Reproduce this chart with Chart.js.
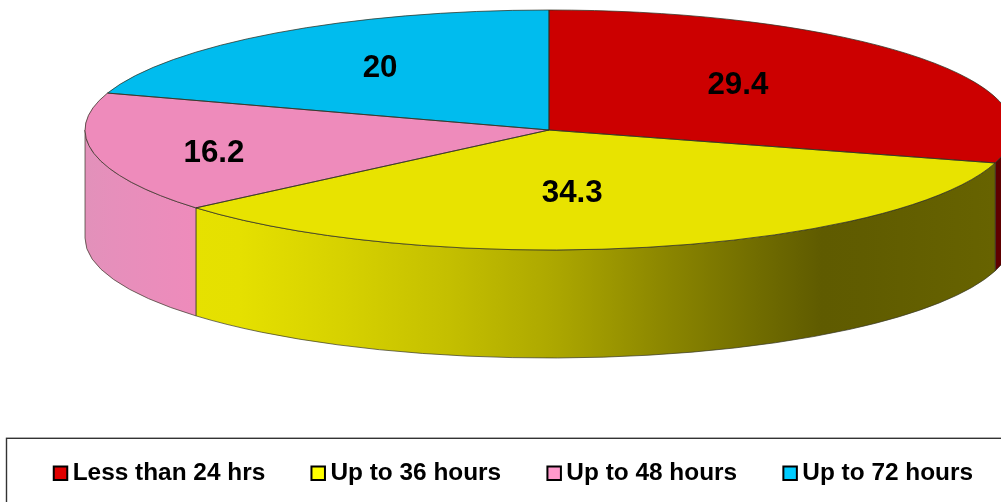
<!DOCTYPE html>
<html><head><meta charset="utf-8">
<style>html,body{margin:0;padding:0;background:#fff;overflow:hidden}canvas{display:block}</style>
<script src="https://cdn.jsdelivr.net/npm/chart.js@4/dist/chart.umd.min.js"></script>
</head><body><canvas id="c" width="1001" height="502"></canvas>
<script>
const categories = ['Less than 24 hrs','Up to 36 hours','Up to 48 hours','Up to 72 hours'];
const values = [29.4,34.3,16.2,20];
const sliceColors = ['#cc0000','#e8e300','#ee8bbb','#00bcee'];
const swatchColors = ['#e00000','#ffff00','#ff99cc','#00ccff'];
const wallStops = [
  [[0,'#5f0000'],[1,'#5f0000']],
  [[0,'#e8e300'],[0.167,'#e5e000'],[0.28,'#d6d100'],[0.392,'#c4bf00'],[0.503,'#ada800'],[0.615,'#8e8900'],[0.727,'#706c00'],[0.794,'#5f5b00'],[0.838,'#605c00'],[1,'#686400']],
  [[0,'#e291ba'],[0.03,'#e68fbb'],[0.118,'#ee8bbb'],[1,'#ee8bbb']],
  [[0,'#00bcee'],[1,'#00bcee']]
];
const labelSpots = [[0.407,-0.375],[0.05,0.525],[-0.722,0.192],[-0.364,-0.516]];
const squash = 120/464, depth = 108;

const pie3d = {
  id:'pie3d',
  afterLayout(chart){
    // the pie overflows the right edge, and the legend sits in a fixed strip
    chart.chartArea = {left:0,right:1098,top:0,bottom:260,width:1098,height:260};
    const lg = chart.legend;
    lg.update(1300,200,{left:0,right:0,top:0,bottom:0});
    lg.left = 7.5; lg.right = lg.left + 1300;
    lg.top = 408; lg.bottom = lg.top + lg.height;
  },
  beforeDatasetsDraw(chart){
    const ctx = chart.ctx, arcs = chart.getDatasetMeta(0).data;
    ctx.save();
    ctx.strokeStyle='#333'; ctx.lineWidth=1.4;
    ctx.strokeRect(6.5,438.3,1100,100);
    ctx.restore();
    arcs.forEach((a,i)=>{
      const s=Math.max(a.startAngle,0), e=Math.min(a.endAngle,Math.PI);
      if(e<=s) return;
      const R=a.outerRadius, ry=R*squash;
      const g=ctx.createLinearGradient(a.x-R,0,a.x+R,0);
      wallStops[i].forEach(st=>g.addColorStop(st[0],st[1]));
      ctx.save();
      ctx.beginPath();
      ctx.ellipse(a.x,a.y,R,ry,0,s,e,false);
      ctx.ellipse(a.x,a.y+depth,R,ry,0,e,s,true);
      ctx.closePath();
      ctx.fillStyle=g; ctx.fill();
      ctx.strokeStyle='rgba(55,55,40,.7)'; ctx.lineWidth=1; ctx.stroke();
      ctx.restore();
    });
    const a0=arcs[0];
    ctx.save();
    ctx.translate(0,a0.y); ctx.scale(1,squash); ctx.translate(0,-a0.y);
  },
  afterDatasetsDraw(chart){
    const ctx = chart.ctx, arcs = chart.getDatasetMeta(0).data;
    ctx.restore();
    arcs.forEach(a=>{
      const R=a.outerRadius, ry=R*squash;
      ctx.save();
      ctx.beginPath();
      ctx.moveTo(a.x,a.y);
      ctx.ellipse(a.x,a.y,R,ry,0,a.startAngle,a.endAngle,false);
      ctx.closePath();
      ctx.strokeStyle='rgba(50,50,35,.75)'; ctx.lineWidth=1; ctx.stroke();
      ctx.restore();
    });
    ctx.save();
    ctx.font='bold 31.3px "Liberation Sans"';
    ctx.fillStyle='#000'; ctx.textAlign='center'; ctx.textBaseline='middle';
    arcs.forEach((a,i)=>{
      const R=a.outerRadius;
      ctx.fillText(String(values[i]),a.x+labelSpots[i][0]*R,a.y+labelSpots[i][1]*R*squash);
    });
    ctx.restore();
  }
};

new Chart(document.getElementById('c'),{
  type:'pie',
  data:{labels:categories,datasets:[{data:values,backgroundColor:sliceColors,borderWidth:0,radius:464,clip:false}]},
  options:{
    responsive:false,animation:false,
    plugins:{
      tooltip:{enabled:false},
      legend:{
        position:'bottom',align:'start',
        labels:{
          usePointStyle:true,boxWidth:0.01,boxHeight:13.5,padding:53,color:'#000',
          font:{family:'"Liberation Sans"',size:24.4,weight:'bold'},
          generateLabels:()=>categories.map((t,i)=>({text:t,fillStyle:swatchColors[i],strokeStyle:'#000',lineWidth:2,pointStyle:'rect',fontColor:'#000',index:i}))
        }
      }
    }
  },
  plugins:[pie3d]
});
</script></body></html>
